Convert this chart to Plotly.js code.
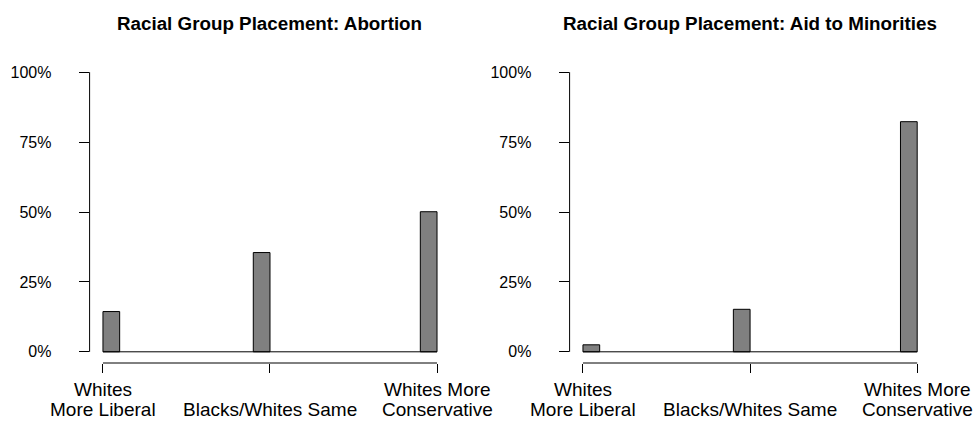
<!DOCTYPE html>
<html>
<head>
<meta charset="utf-8">
<script src="https://cdn.plot.ly/plotly-3.0.1.min.js"></script>
<style>html,body{margin:0;padding:0;background:#fff;}#chart{width:974px;height:422px;}</style>
</head>
<body>
<div id="chart"></div>
<script>
// ---- data ----
const categoryValues = [1, 2, 3];
const categoryLabels = ["Whites<br>More Liberal", "<br>Blacks/Whites Same", "Whites More<br>Conservative"];
const abortionShares = [0.144, 0.355, 0.501];
const aidShares = [0.025, 0.152, 0.823];
const yTickVals = [0, 0.25, 0.5, 0.75, 1];
const yTickText = ["0%", "25%", "50%", "75%", "100%"];
const panelTitles = ["Racial Group Placement: Abortion", "Racial Group Placement: Aid to Minorities"];

// histogram-style bins (20 bins between the extreme categories)
const nBins = 20;
const lo = Math.min(...categoryValues), hi = Math.max(...categoryValues);
const binW = (hi - lo) / nBins;
function binCenter(v) {
  let idx = Math.ceil((v - lo) / binW - 1e-9) - 1;
  if (idx < 0) idx = 0;
  return lo + binW * (idx + 0.5);
}
const barX = categoryValues.map(binCenter);

const FONT = "Liberation Sans, Arial, Helvetica, sans-serif";
const panels = [abortionShares, aidShares];
const domains = [[0.092, 0.4624], [0.5848, 0.9554]];
const lineShifts = [-39, -59];

const data = [];
const layout = {
  width: 974, height: 422,
  margin: {l: 0, r: 0, t: 61, b: 59},
  paper_bgcolor: "#fff", plot_bgcolor: "#fff",
  showlegend: false,
  font: {family: FONT, color: "#000"},
  shapes: [], annotations: []
};

panels.forEach((vals, i) => {
  const n = i === 0 ? "" : String(i + 1);
  const xa = "x" + n, ya = "y" + n;
  data.push({
    type: "scatter", mode: "lines", x: [lo, hi], y: [0, 0],
    xaxis: xa, yaxis: ya, line: {color: "#000", width: 1}, hoverinfo: "skip"
  });
  data.push({
    type: "bar", x: barX, y: vals, width: binW,
    xaxis: xa, yaxis: ya,
    marker: {color: "#808080", line: {color: "#000", width: 1}}
  });
  layout["xaxis" + n] = {
    domain: domains[i], anchor: ya, range: [lo - 0.04 * (hi - lo), hi + 0.04 * (hi - lo)],
    tickmode: "array", tickvals: categoryValues, showticklabels: false,
    ticks: "outside", ticklen: 9, tickwidth: 1, tickcolor: "#000",
    showline: false, zeroline: false, showgrid: false, fixedrange: true
  };
  layout["yaxis" + n] = {
    domain: [0, 1], anchor: xa, range: [-0.04, 1.04],
    tickmode: "array", tickvals: yTickVals, ticktext: yTickText,
    ticks: "outside", ticklen: 10, tickwidth: 1, tickcolor: "#000",
    showline: false, zeroline: false, showgrid: false, fixedrange: true,
    tickfont: {family: FONT, size: 16, color: "#000"}, ticklabelstandoff: 24
  };
  layout.shapes.push({type: "line", xref: xa + " domain", yref: ya, x0: 0, x1: 0, y0: 0, y1: 1, line: {color: "#000", width: 1}});
  layout.shapes.push({type: "line", xref: xa, yref: ya + " domain", x0: lo, x1: hi, y0: 0, y1: 0, line: {color: "#000", width: 1}});
  // category labels, one annotation per text line
  categoryValues.forEach((cv, k) => {
    categoryLabels[k].split("<br>").forEach((ln, j) => {
      if (!ln) return;
      layout.annotations.push({
        text: ln, xref: xa, yref: ya + " domain", x: cv, y: 0,
        xanchor: "center", yanchor: "bottom", yshift: lineShifts[j],
        showarrow: false, font: {family: FONT, size: 19, color: "#000"}
      });
    });
  });
  layout.annotations.push({
    text: "<b>" + panelTitles[i] + "</b>", xref: xa + " domain", yref: "paper",
    x: 0.5, y: 1.125, xanchor: "center", yanchor: "middle", showarrow: false,
    font: {family: FONT, size: 18.8, color: "#000"}
  });
});

Plotly.newPlot("chart", data, layout, {staticPlot: true});
</script>
</body>
</html>
